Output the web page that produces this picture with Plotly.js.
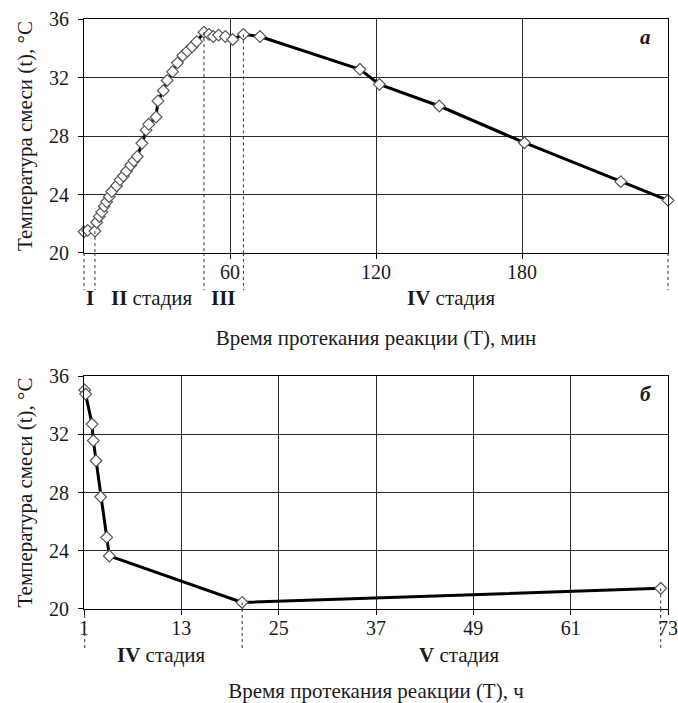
<!DOCTYPE html>
<html>
<head>
<meta charset="utf-8">
<script src="https://cdn.plot.ly/plotly-3.0.1.min.js"></script>
<style>html,body{margin:0;padding:0;background:#fff;}#chart{width:678px;height:703px;}</style>
</head>
<body>
<div id="chart"></div>
<script>
// ---- Data: panel a (minutes) ----
const timeMin = [0, 1.5, 4.5, 5.2, 6.3, 7.3, 8.3, 9.3, 10.4, 11.4, 13.4, 14.8, 16.2, 17.5, 19.2, 20.5, 21.9, 23.8, 25.5, 26.6, 29.6, 30.4, 32.6, 34.2, 36.4, 38.4, 40.6, 42.5, 44.4, 46.3, 49.3, 51.4, 53.1, 55.3, 58.1, 61.1, 65.5, 72.3, 113.4, 121.4, 146.0, 181.0, 220.6, 240];
const tempMin = [21.45, 21.55, 21.5, 22.1, 22.5, 22.8, 23.2, 23.5, 23.85, 24.2, 24.6, 25.0, 25.26, 25.6, 26.0, 26.3, 26.6, 27.5, 28.4, 28.8, 29.3, 30.4, 31.1, 31.8, 32.4, 33.0, 33.5, 33.8, 34.1, 34.45, 35.1, 34.95, 34.8, 34.9, 34.8, 34.6, 34.95, 34.8, 32.56, 31.53, 30.05, 27.54, 24.88, 23.6];
// ---- Data: panel б (hours) ----
const timeH = [1.09, 1.2, 1.99, 2.15, 2.48, 3.06, 3.8, 4.12, 20.5, 72.1];
const tempH = [35.04, 34.76, 32.7, 31.56, 30.18, 27.7, 24.92, 23.64, 20.45, 21.42];

const xTicksA = [60, 120, 180];
const xTicksB = [1, 13, 25, 37, 49, 61, 73];
const yTicks = [20, 24, 28, 32, 36];

// stage boundaries: [x value, y value of marker where the dashed line starts (null = from axis)]
const stageLinesA = [[0, null], [4.5, 21.5], [49.3, 35.1], [65.5, 34.95], [240, null]];
const stageLinesB = [[1.09, null], [20.5, 20.45], [72.1, 21.42]];
const stageLabelsA = [[2.5, '<b>I</b>'], [28, '<b>II</b> стадия'], [57.5, '<b>III</b>'], [151, '<b>IV</b> стадия']];
const stageLabelsB = [[10.6, '<b>IV</b> стадия'], [47.2, '<b>V</b> стадия']];

const FONT = '"Liberation Serif", "Times New Roman", serif';
const TXT = '#1a1a1a';

const lineStyle = {color: '#000', width: 3};
const markerStyle = {symbol: 'diamond', size: 9, color: '#fff', line: {color: '#555', width: 1.2}};

const traces = [
  {x: timeMin, y: tempMin, xaxis: 'x', yaxis: 'y', mode: 'lines+markers', line: lineStyle, marker: markerStyle, cliponaxis: false, showlegend: false, hoverinfo: 'x+y'},
  {x: timeH, y: tempH, xaxis: 'x2', yaxis: 'y2', mode: 'lines+markers', line: lineStyle, marker: markerStyle, cliponaxis: false, showlegend: false, hoverinfo: 'x+y'}
];

const axBase = {
  showline: true, mirror: true, linecolor: '#000', linewidth: 1,
  showgrid: true, gridcolor: '#2a2a2a', gridwidth: 1, zeroline: false,
  ticks: 'outside', ticklen: 5, tickcolor: '#000', tickwidth: 1,
  tickfont: {family: FONT, size: 20, color: TXT}
};

const domA = [0.6034, 1];
const domB = [0, 0.3949];

const dash = {color: '#333', width: 1, dash: '3px,3px'};
const shapes = [];
function addStage(list, xr, yr, dom, range, below) {
  list.forEach(([xv, yv]) => {
    let xref = xr, xval = xv;
    if (xv === range[0]) { xref = xr + ' domain'; xval = 0; }
    if (xv === range[1]) { xref = xr + ' domain'; xval = 1; }
    if (yv !== null) {
      shapes.push({type: 'line', xref: xref, yref: yr, x0: xval, x1: xval, y0: yv, y1: 20, line: dash});
    }
    shapes.push({type: 'line', xref: xref, yref: 'paper', x0: xval, x1: xval, y0: dom[0], y1: dom[0] - below, line: dash});
  });
}
addStage(stageLinesA, 'x', 'y', domA, [0, 240], 0.063);
addStage(stageLinesB, 'x2', 'y2', domB, [1, 73], 0.07);

const annotations = [];
stageLabelsA.forEach(([xv, t]) => annotations.push({xref: 'x', yref: 'paper', x: xv, y: 0.527, text: t, showarrow: false, xanchor: 'center', yanchor: 'middle', font: {family: FONT, size: 21, color: TXT}}));
stageLabelsB.forEach(([xv, t]) => annotations.push({xref: 'x2', yref: 'paper', x: xv, y: -0.078, text: t, showarrow: false, xanchor: 'center', yanchor: 'middle', font: {family: FONT, size: 21, color: TXT}}));
annotations.push({xref: 'x domain', yref: 'y domain', x: 0.962, y: 0.923, text: '<b><i>а</i></b>', showarrow: false, xanchor: 'center', yanchor: 'middle', bgcolor: '#fff', font: {family: FONT, size: 21, color: TXT}});
annotations.push({xref: 'x2 domain', yref: 'y2 domain', x: 0.962, y: 0.923, text: '<b><i>б</i></b>', showarrow: false, xanchor: 'center', yanchor: 'middle', bgcolor: '#fff', font: {family: FONT, size: 21, color: TXT}});

const ytitle = 'Температура смеси (t), °С';
const titleFont = {family: FONT, size: 21, color: TXT};

const layout = {
  width: 678, height: 703,
  margin: {l: 84, r: 10, t: 19, b: 94},
  paper_bgcolor: '#fff', plot_bgcolor: '#fff',
  showlegend: false,
  xaxis: Object.assign({}, axBase, {domain: [0, 1], anchor: 'y', range: [0, 240], tickvals: xTicksA, ticktext: xTicksA.map(String), ticklabelstandoff: -4,
    title: {text: 'Время протекания реакции (T), мин', font: titleFont, standoff: 48}}),
  yaxis: Object.assign({}, axBase, {domain: domA, anchor: 'x', range: [20, 36], tickvals: yTicks, ticktext: yTicks.map(String), ticklabelstandoff: 5,
    title: {text: ytitle, font: titleFont, standoff: 10}}),
  xaxis2: Object.assign({}, axBase, {domain: [0, 1], anchor: 'y2', range: [1, 73], tickvals: xTicksB, ticktext: xTicksB.map(String), ticklabelstandoff: -4,
    title: {text: 'Время протекания реакции (T), ч', font: titleFont, standoff: 48}}),
  yaxis2: Object.assign({}, axBase, {domain: domB, anchor: 'x2', range: [20, 36], tickvals: yTicks, ticktext: yTicks.map(String), ticklabelstandoff: 5,
    title: {text: ytitle, font: titleFont, standoff: 10}}),
  shapes: shapes,
  annotations: annotations
};

Plotly.newPlot('chart', traces, layout, {displayModeBar: false, staticPlot: true});
</script>
</body>
</html>
